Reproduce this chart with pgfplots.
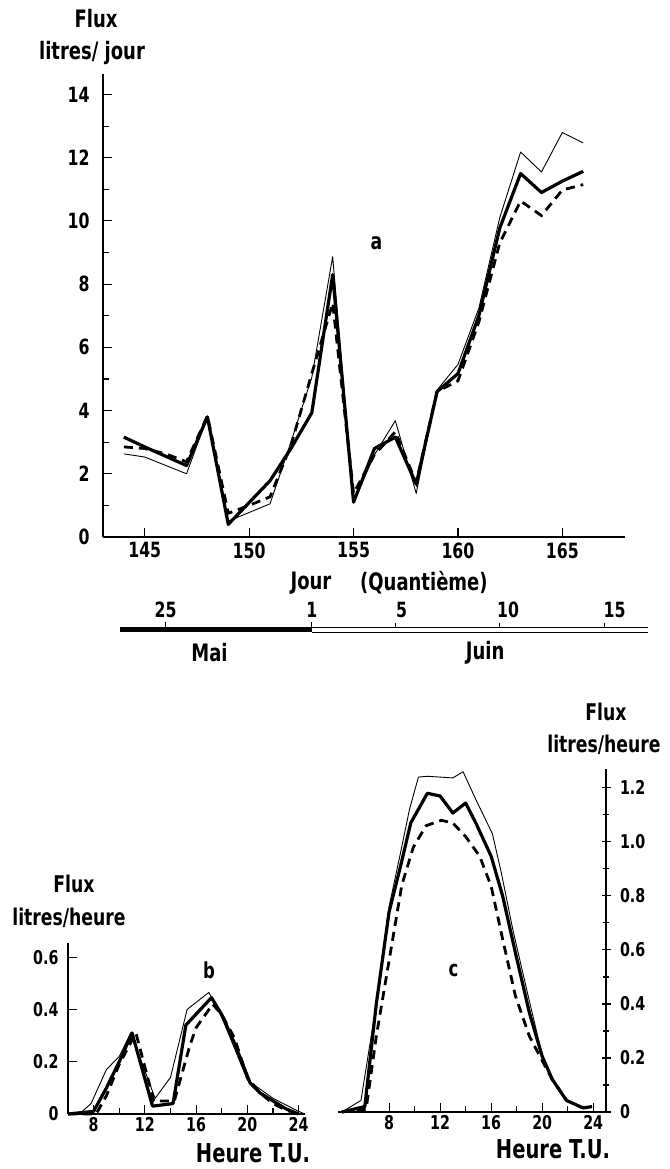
\documentclass[border=0pt]{standalone}
\usepackage{fontspec}
\setmainfont{DejaVu Sans}[FakeStretch=0.75]
\usepackage{pgfplots}
\pgfplotsset{compat=1.18}
\begin{document}
\begin{tikzpicture}
\useasboundingbox (0pt,0pt) rectangle (669pt,1169pt);
\pgfplotsset{
 myax/.style={scale only axis, axis x line=bottom, axis y line=left,
   axis line style={line width=1.2pt,-}, tick style={line width=1.1pt, black},
   major tick length=9pt, minor tick length=6pt, tick align=inside,
   /pgf/number format/assume math mode=true, clip=false},
 sThin/.style={black, line width=0.9pt, line join=round},
 sThick/.style={black, line width=3.2pt, line join=round},
 sDash/.style={black, line width=2.8pt, dash pattern=on 9pt off 6pt},
}
% ---------------- panel a
\begin{axis}[myax, at={(103pt,632pt)}, anchor=south west, width=522pt, height=463pt,
  xmin=143, xmax=168, ymin=0, ymax=14.65,
  xtick={145,150,...,165}, ytick={0,2,...,14}, minor ytick={1,3,...,13},
  tick label style={font=\fontsize{21}{24}\selectfont\bfseries},
  yticklabel style={xshift=-10pt}, xticklabel style={yshift=-2pt}]
\addplot[sThin] coordinates {(144,2.63)(145,2.53)(147,2.0)(148,3.8)(149,0.5)(151,1.05)(152,3.0)(153,5.05)(154,8.87)(155,1.1)(156,2.6)(157,3.68)(158,1.38)(159,4.65)(160,5.46)(161,7.24)(162,10.1)(163,12.18)(164,11.55)(165,12.8)(166,12.47)};
\addplot[sThick] coordinates {(144,3.16)(145,2.85)(147,2.26)(148,3.8)(149,0.4)(151,1.78)(152,2.8)(153,3.93)(154,8.3)(155,1.1)(156,2.8)(157,3.16)(158,1.67)(159,4.6)(160,5.17)(161,7.0)(162,9.77)(163,11.5)(164,10.9)(165,11.26)(166,11.57)};
\addplot[sDash] coordinates {(144,2.85)(145,2.8)(146,2.63)(147,2.38)(148,3.83)(149,0.75)(150,1.0)(151,1.27)(152,2.9)(153,5.17)(154,7.4)(155,1.38)(156,2.6)(157,3.33)(158,1.72)(159,4.6)(160,4.94)(161,6.8)(162,9.3)(163,10.63)(164,10.17)(165,10.98)(166,11.15)};
\node[font=\fontsize{23}{26}\selectfont\bfseries] at (axis cs:156.1,9.31) {a};
\node[font=\fontsize{24}{27}\selectfont\bfseries] at (axis cs:152.96,-1.46) {Jour};
\node[font=\fontsize{24}{27}\selectfont\bfseries] at (axis cs:158.37,-1.46) {(Quantième)};
% timeline
\addplot[black, line width=5pt] coordinates {(143.8,-2.94)(153,-2.94)};
\addplot[black, line width=1pt, double, double distance=3.5pt] coordinates {(153,-2.94)(169.1,-2.94)};
\addplot[black, line width=1pt] coordinates {(146,-2.94)(146,-2.7)};
\addplot[black, line width=1pt] coordinates {(153,-2.94)(153,-2.7)};
\addplot[black, line width=1pt] coordinates {(157,-2.88)(157,-2.72)};
\addplot[black, line width=1pt] coordinates {(162,-2.88)(162,-2.72)};
\addplot[black, line width=1pt] coordinates {(167,-2.88)(167,-2.72)};
\node[font=\fontsize{21}{24}\selectfont\bfseries] at (axis cs:146,-2.31) {25};
\node[font=\fontsize{21}{24}\selectfont\bfseries] at (axis cs:153,-2.31) {1};
\node[font=\fontsize{21}{24}\selectfont\bfseries] at (axis cs:157.3,-2.31) {5};
\node[font=\fontsize{21}{24}\selectfont\bfseries] at (axis cs:162.4,-2.31) {10};
\node[font=\fontsize{21}{24}\selectfont\bfseries] at (axis cs:167.5,-2.31) {15};
\node[font=\fontsize{24}{27}\selectfont\bfseries] at (axis cs:148.1,-3.65) {Mai};
\node[font=\fontsize{24}{27}\selectfont\bfseries] at (axis cs:161.3,-3.65) {Juin};
\end{axis}
\node[font=\fontsize{24}{27}\selectfont\bfseries] at (96pt,1150pt) {Flux};
\node[font=\fontsize{24}{27}\selectfont\bfseries] at (92pt,1116pt) {litres/ jour};
% ---------------- panel b
\begin{axis}[myax, at={(68pt,55pt)}, anchor=south west, width=237pt, height=171pt,
  xmin=6, xmax=24.5, ymin=0, ymax=0.654,
  xtick={8,12,16,20,24}, minor xtick={10,14,18,22},
  ytick={0,0.2,0.4,0.6}, yticklabels={0,0.2,0.4,0.6},
  tick label style={font=\fontsize{19}{22}\selectfont\bfseries},
  yticklabel style={xshift=-6pt}]
\addplot[sThin] coordinates {(6,0)(7,0.005)(7.8,0.04)(9,0.17)(10,0.22)(10.9,0.31)(12.8,0.06)(14,0.14)(15.3,0.40)(17,0.465)(18,0.37)(19,0.25)(20,0.13)(22,0.06)(24,0.01)(24.5,0)};
\addplot[sThick] coordinates {(6,0)(8,0.01)(9,0.1)(10,0.2)(11,0.31)(12.6,0.03)(14.2,0.04)(15.2,0.34)(17.2,0.445)(18,0.38)(19,0.27)(20.2,0.12)(21,0.08)(22,0.05)(23,0.02)(24,0.0)};
\addplot[sDash] coordinates {(6,0)(8.2,0)(9,0.07)(10,0.19)(11.3,0.31)(12.7,0.05)(14.3,0.05)(15.5,0.26)(16,0.33)(17.3,0.42)(18,0.38)(19,0.29)(20,0.14)(21,0.08)(22,0.04)(23,0.015)(24,0)};
\node[font=\fontsize{22}{25}\selectfont\bfseries] at (axis cs:17.0,0.55) {b};
\end{axis}
\node[font=\fontsize{23}{26}\selectfont\bfseries] at (74pt,285pt) {Flux};
\node[font=\fontsize{23}{26}\selectfont\bfseries] at (69pt,251pt) {litres/heure};
\node[font=\fontsize{26}{29}\selectfont\bfseries] at (253pt,16pt) {Heure T.U.};
% ---------------- panel c
\begin{axis}[myax, axis y line=right, axis line style={line width=1.2pt,-},
  at={(338pt,57pt)}, anchor=south west, width=268pt, height=343pt,
  xmin=4, xmax=25, ymin=0, ymax=1.27,
  xtick={8,12,16,20,24}, minor xtick={6,10,14,18,22},
  ytick={0,0.2,0.4,0.6,0.8,1.0,1.2}, yticklabels={0,0.2,0.4,0.6,0.8,1.0,1.2},
  minor ytick={0.1,0.3,0.5,0.7,0.9,1.1},
  tick label style={font=\fontsize{19}{22}\selectfont\bfseries},
  yticklabel style={xshift=6pt}]
\addplot[sThin] coordinates {(4.3,0)(4.9,0.017)(5.8,0.043)(6.9,0.37)(8,0.76)(8.9,0.96)(9.6,1.12)(10.3,1.24)(11,1.243)(12,1.24)(13,1.237)(13.8,1.26)(14.8,1.157)(16.1,1.03)(16.8,0.885)(17.7,0.675)(18.9,0.43)(20,0.21)(20.8,0.12)(21.9,0.043)(23.2,0.015)(23.9,0.02)};
\addplot[sThick] coordinates {(4.3,0)(6.1,0.02)(7,0.4)(8,0.74)(8.9,0.91)(9.7,1.07)(11,1.18)(12,1.17)(13,1.107)(14,1.144)(14.8,1.07)(16,0.947)(16.9,0.80)(17.9,0.59)(19,0.367)(20,0.206)(20.8,0.12)(21.9,0.043)(23.2,0.015)(23.9,0.02)};
\addplot[sDash] coordinates {(4.3,0)(6.2,0.01)(7,0.28)(8,0.56)(9,0.84)(9.9,0.98)(10.9,1.06)(12.1,1.08)(13,1.07)(14,1.02)(15.1,0.947)(16,0.836)(16.9,0.64)(17.9,0.43)(19,0.28)(20,0.19)(20.8,0.12)(21.9,0.043)};
\node[font=\fontsize{22}{25}\selectfont\bfseries] at (axis cs:13.05,0.525) {c};
\end{axis}
\node[font=\fontsize{23}{26}\selectfont\bfseries] at (606pt,457pt) {Flux};
\node[font=\fontsize{23}{26}\selectfont\bfseries] at (604pt,424pt) {litres/heure};
\node[font=\fontsize{26}{29}\selectfont\bfseries] at (553pt,20pt) {Heure T.U.};
\end{tikzpicture}
\end{document}
